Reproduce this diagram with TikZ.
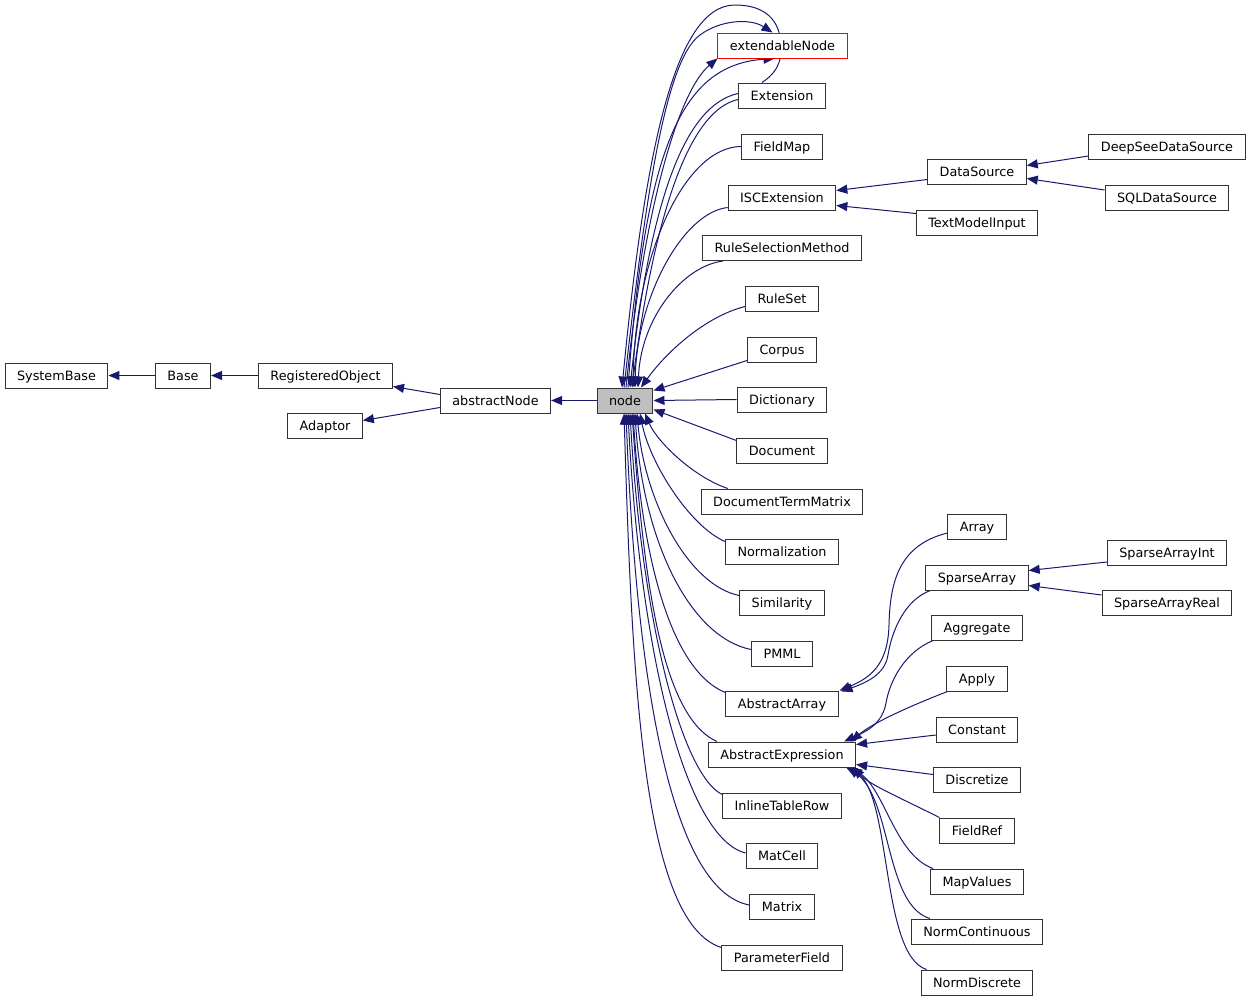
\documentclass[tikz,border=0pt]{standalone}
\usepackage{fontspec}
\setmainfont{DejaVu Sans}
\usetikzlibrary{arrows.meta,backgrounds}
\definecolor{edgeblue}{HTML}{191970}
\definecolor{nodegray}{HTML}{BFBFBF}
\begin{document}
\begin{tikzpicture}[x=1pt,y=-1pt,
  cls/.style={draw=black!80,line width=1pt,fill=white,minimum height=25pt,inner xsep=12pt,inner ysep=0pt,text height=11.5pt,text depth=2.3pt,font=\fontsize{12.8}{15}\selectfont},
  ed/.style={draw=edgeblue,line width=1pt,-{Triangle[length=11pt,width=9pt]}},
]
\useasboundingbox (0,0) rectangle (1251,1002);
% left part
\node[cls] (SystemBase) at (56.5,375.5) {SystemBase};
\node[cls] (Base) at (183,375.5) {Base};
\node[cls] (RegisteredObject) at (325.5,375.5) {RegisteredObject};
\node[cls] (Adaptor) at (325,425.5) {Adaptor};
\node[cls] (abstractNode) at (495.5,400.5) {abstractNode};
\node[cls,fill=nodegray] (node) at (625,400.5) {node};
% column 2
\node[cls,draw=red] (extendableNode) at (782.5,45.5) {extendableNode};
\node[cls] (Extension) at (782,95.5) {Extension};
\node[cls] (FieldMap) at (782,146.5) {FieldMap};
\node[cls] (ISCExtension) at (782,197.5) {ISCExtension};
\node[cls] (RuleSelectionMethod) at (782,248) {RuleSelectionMethod};
\node[cls] (RuleSet) at (782,298.5) {RuleSet};
\node[cls] (Corpus) at (782,349.5) {Corpus};
\node[cls] (Dictionary) at (782,399.5) {Dictionary};
\node[cls] (Document) at (782,450.5) {Document};
\node[cls] (DocumentTermMatrix) at (782,501.5) {DocumentTermMatrix};
\node[cls] (Normalization) at (782,551.5) {Normalization};
\node[cls] (Similarity) at (782,602.5) {Similarity};
\node[cls] (PMML) at (782,653.5) {PMML};
\node[cls] (AbstractArray) at (782,703.5) {AbstractArray};
\node[cls] (AbstractExpression) at (782,754.5) {AbstractExpression};
\node[cls] (InlineTableRow) at (782,805.5) {InlineTableRow};
\node[cls] (MatCell) at (782,855.5) {MatCell};
\node[cls] (Matrix) at (782,906.5) {Matrix};
\node[cls] (ParameterField) at (782,957.5) {ParameterField};
% column 3
\node[cls] (DataSource) at (977,171.5) {DataSource};
\node[cls] (TextModelInput) at (977,222.5) {TextModelInput};
\node[cls] (Array) at (977,526.5) {Array};
\node[cls] (SparseArray) at (977,577.5) {SparseArray};
\node[cls] (Aggregate) at (977,627.5) {Aggregate};
\node[cls] (Apply) at (977,678.5) {Apply};
\node[cls] (Constant) at (977,729.5) {Constant};
\node[cls] (Discretize) at (977,779.5) {Discretize};
\node[cls] (FieldRef) at (977,830.5) {FieldRef};
\node[cls] (MapValues) at (977,881.5) {MapValues};
\node[cls] (NormContinuous) at (977,931.5) {NormContinuous};
\node[cls] (NormDiscrete) at (977,982.5) {NormDiscrete};
% column 4
\node[cls] (DeepSeeDataSource) at (1167,146.5) {DeepSeeDataSource};
\node[cls] (SQLDataSource) at (1167,197.5) {SQLDataSource};
\node[cls] (SparseArrayInt) at (1167,552.5) {SparseArrayInt};
\node[cls] (SparseArrayReal) at (1167,602.5) {SparseArrayReal};

\begin{scope}[on background layer]
% left edges
\draw[ed] (Base.west) -- (SystemBase.east);
\draw[ed] (RegisteredObject.west) -- (Base.east);
\draw[ed] ([yshift=6pt]abstractNode.west) -- ([yshift=-11pt]RegisteredObject.east);
\draw[ed] ([yshift=-7pt]abstractNode.west) -- ([yshift=5pt]Adaptor.east);
\draw[ed] (node.west) -- (abstractNode.east);
% extendableNode related
\draw[ed] ([xshift=-20pt]Extension.north) .. controls +(12,-8) and (782,65) .. (781,45)
   .. controls (780,20) and (765,5) .. (735,5) .. controls (675,5) and (645,150) .. ([xshift=-3pt]node.north);
\draw[ed] ([xshift=-1pt]node.north) .. controls (645,200) and (665,60) .. (700,35)
   .. controls (720,20) and (750,18) .. ([xshift=-10pt]extendableNode.north);
\draw[ed] ([xshift=1pt]node.north) .. controls (645,200) and (680,90) .. (extendableNode.south west);
\draw[ed] ([xshift=3pt]node.north) .. controls (645,150) and (680,65) .. ([xshift=-8pt]extendableNode.south);
\draw[ed] ([yshift=2pt]Extension.west) .. controls (685,105) and (650,200) .. ([xshift=5pt]node.north);
\draw[ed] ([yshift=-4pt]Extension.west) .. controls (690,110) and (655,210) .. ([xshift=7pt]node.north);
% upper children
\draw[ed] (FieldMap.west) .. controls +(-56,0) and +(2,-133) .. ([xshift=8pt]node.north);
\draw[ed] ([yshift=3pt]ISCExtension.south west) .. controls +(-45,5) and +(2,-90) .. ([xshift=10pt]node.north);
\draw[ed] ([xshift=21pt]RuleSelectionMethod.south west) .. controls +(-40,5) and +(3,-70) .. ([xshift=13pt]node.north);
\draw[ed] ([yshift=5pt]RuleSet.south west) .. controls +(-40,10) and +(25,-35) .. ([xshift=16pt]node.north);
\draw[ed] ([yshift=2pt]Corpus.south west) -- ([yshift=-3pt]node.north east);
\draw[ed] (Dictionary.west) -- (node.east);
\draw[ed] ([yshift=10pt]Document.west) -- ([yshift=-9pt]node.east);
% lower children
\draw[ed] ([xshift=27pt]DocumentTermMatrix.north west) .. controls +(-35,-12) and +(12,28) .. ([xshift=20pt]node.south);
\draw[ed] ([yshift=-3pt]Normalization.north west) .. controls +(-35,-15) and +(10,50) .. ([xshift=15pt]node.south);
\draw[ed] ([yshift=-6pt]Similarity.north west) .. controls +(-50,-10) and +(8,90) .. ([xshift=12pt]node.south);
\draw[ed] ([yshift=-9pt]PMML.north west) .. controls +(-60,-12) and +(8,130) .. ([xshift=10pt]node.south);
\draw[ed] ([yshift=-2pt]AbstractArray.north west) .. controls +(-50,-20) and +(10,160) .. ([xshift=8pt]node.south);
\draw[ed] ([xshift=9pt]AbstractExpression.north west) .. controls +(-55,-25) and +(12,170) .. ([xshift=7pt]node.south);
\draw[ed] ([yshift=-2pt]InlineTableRow.north west) .. controls +(-40,-20) and +(12,210) .. ([xshift=5pt]node.south);
\draw[ed] ([yshift=2.5pt]MatCell.west) .. controls +(-60,-15) and +(12,240) .. ([xshift=3pt]node.south);
\draw[ed] ([yshift=1.5pt]Matrix.west) .. controls +(-80,-15) and +(10,260) .. ([xshift=1pt]node.south);
\draw[ed] ([yshift=-3pt]ParameterField.north west) .. controls +(-80,-25) and +(8,260) .. ([xshift=-1pt]node.south);
% column 3 -> column 2
\draw[ed] ([yshift=-8pt]DataSource.west) -- ([yshift=7pt]ISCExtension.east);
\draw[ed] ([yshift=9pt]TextModelInput.west) -- ([yshift=-8pt]ISCExtension.east);
\draw[ed] ([yshift=-9.5pt]DeepSeeDataSource.west) -- ([yshift=6pt]DataSource.east);
\draw[ed] ([yshift=7.5pt]SQLDataSource.west) -- ([yshift=-7pt]DataSource.east);
\draw[ed] ([yshift=-9.5pt]SparseArrayInt.west) -- ([yshift=7pt]SparseArray.east);
\draw[ed] ([yshift=7.5pt]SparseArrayReal.west) -- ([yshift=-8pt]SparseArray.east);
\draw[ed] ([yshift=-6.5pt]Array.west) .. controls (900,545) and (890,580) .. (889,625)
   .. controls (888,665) and (870,678) .. ([xshift=1pt]AbstractArray.north east);
\draw[ed] ([xshift=5pt]SparseArray.south west) .. controls (905,600) and (892,630) .. (888,655)
   .. controls (885,675) and (865,683) .. ([xshift=3pt,yshift=-1pt]AbstractArray.north east);
\draw[ed] ([xshift=2pt]Aggregate.south west) .. controls (905,652) and (890,680) .. (886,703)
   .. controls (882,725) and (865,732) .. ([xshift=-12pt]AbstractExpression.north east);
\draw[ed] ([xshift=1pt]Apply.south west) .. controls (900,710) and (870,725) .. ([xshift=-5pt]AbstractExpression.north east);
\draw[ed] ([yshift=-5.5pt]Constant.west) -- ([yshift=10pt]AbstractExpression.east);
\draw[ed] ([yshift=5pt]Discretize.west) -- ([yshift=-10pt]AbstractExpression.east);
\draw[ed] (FieldRef.north west) .. controls (905,800) and (870,785) .. ([xshift=-3pt]AbstractExpression.south east);
\draw[ed] ([xshift=3pt]MapValues.north west) .. controls (895,855) and (885,790) .. ([xshift=-5pt]AbstractExpression.south east);
\draw[ed] ([xshift=19pt]NormContinuous.north west) .. controls (885,905) and (892,800) .. ([xshift=-8pt]AbstractExpression.south east);
\draw[ed] ([xshift=6pt]NormDiscrete.north west) .. controls (880,955) and (892,790) .. ([xshift=-10pt]AbstractExpression.south east);
\end{scope}
\end{tikzpicture}
\end{document}
